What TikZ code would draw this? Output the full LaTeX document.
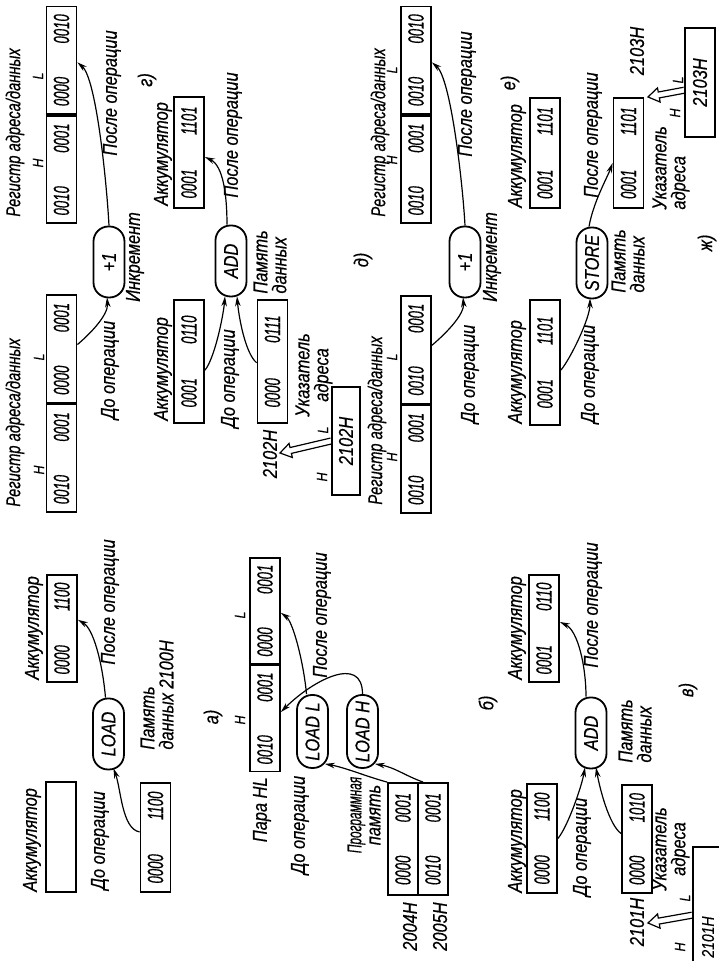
\documentclass[tikz,border=0pt]{standalone}
\usepackage{fontspec}
\usepackage{graphicx}
\usetikzlibrary{calc,arrows.meta}
\newfontfamily\lblfam{Liberation Sans}[FakeStretch=0.82,FakeBold=0.5]
\newfontfamily\digfam{Liberation Sans}[FakeStretch=0.6,FakeBold=0.5]
\newcommand\lblf{\lblfam\itshape\fontsize{10}{9.5}\selectfont}
\newcommand\smf{\lblfam\itshape\fontsize{7.5}{8}\selectfont}
\newcommand\digf{\digfam\itshape\fontsize{11}{12}\selectfont}
\newcommand\bits[2]{\makebox[46pt]{#1\hfill#2}}
\newcommand\regt{\scalebox{0.9}[1]{Регистр адреса/данных}}
\newcommand\harrow[2]{%
  \coordinate (hb) at ($(#2)!5.5pt!(#1)$);
  \draw[hollow] ($(#1)!1.5pt!90:(#2)$) -- ($(hb)!1.5pt!90:(#2)$) -- ($(hb)!3.6pt!90:(#2)$) -- (#2)
    -- ($(hb)!3.6pt!-90:(#2)$) -- ($(hb)!1.5pt!-90:(#2)$) -- ($(#1)!1.5pt!-90:(#2)$);
}
\tikzset{
  bx/.style={draw, line width=0.9pt, minimum height=15pt, inner sep=0pt, font=\digf},
  pill/.style={draw, line width=0.9pt, rounded corners=7.5pt, minimum height=15.5pt, minimum width=35.5pt, inner sep=0pt, font=\lblf},
  lbl/.style={inner sep=0pt, font=\lblf},
  sm/.style={inner sep=0pt, font=\smf},
  arr/.style={line width=0.6pt, -{Stealth[length=5pt,width=2.8pt]}},
  hollow/.style={line width=0.6pt, line join=miter},
}
\begin{document}
\begin{tikzpicture}[x=0.5pt,y=0.5pt]
\begin{scope}[rotate=90, transform shape]
\useasboundingbox (0,0) rectangle (961,718);

% ---------- panel a
\node[bx, minimum width=55pt] (accA0) at (124,657) {};
\node[lbl, anchor=west] (accA0t) at (69,686) {Аккумулятор};
\node[lbl, anchor=west] (doA) at (71,618) {До операции};
\node[bx, minimum width=54.5pt] (memA) at (123.5,562.5) {\bits{0000}{1100}};
\node[lbl, anchor=west, align=left] (memAt) at (211,561) {Память\\данных 2100H};
\node[pill] (loadA) at (227,609.5) {LOAD};
\node[bx, minimum width=53.5pt] (accA1) at (332.5,656) {\bits{0000}{1100}};
\node[lbl, anchor=west] (accA1t) at (281,684) {Аккумулятор};
\node[lbl, anchor=west] (poA) at (296,608) {После операции};
\node[lbl] (capA) at (244,505) {а)};
\draw[arr] ($(memA.north west)!0.55!(memA.north east)$) .. controls +(80:18) and +(200:22) .. ($(loadA.west)+(2,-5)$);
\draw[arr] ($(loadA.east)+(0,3)$) .. controls +(5:35) and +(-120:18) .. ($(accA1.south west)!0.58!(accA1.south east)$);

% ---------- panel b
\node[bx, minimum width=53pt] (hlH) at (242.5,453) {\bits{0010}{0001}};
\node[bx, minimum width=53pt, anchor=west] (hlL) at (hlH.east) {\bits{0000}{0001}};
\node[sm] (hlHt) at (241,478) {H};
\node[sm] (hlLt) at (346,478) {L};
\node[lbl, anchor=east] (hlt) at (184,456) {Пара HL};
\node[lbl] (doB) at (136,418) {До операции};
\node[pill, minimum width=36.5pt] (loadL) at (229.5,405.5) {LOAD L};
\node[pill, minimum width=36.5pt] (loadH) at (229.5,355.5) {LOAD H};
\node[lbl, align=center] (pmt) at (146,354) {\scalebox{0.72}[1]{Программная}\\память};
\node[bx, minimum width=56pt] (pm1) at (122,315) {\bits{0000}{0001}};
\node[bx, minimum width=56pt] (pm2) at (122,285) {\bits{0010}{0001}};
\node[lbl, anchor=east] (pm1a) at (59,308) {2004H};
\node[lbl, anchor=east] (pm2a) at (59,278) {2005H};
\node[lbl] (poB) at (346,396) {После операции};
\node[lbl] (capB) at (258,230) {б)};
\draw[arr] ($(loadL.east)+(0,6)$) .. controls +(5:30) and +(-125:15) .. ($(hlL.south west)!0.48!(hlL.south east)$);
\draw[arr] (loadH.east) .. controls +(0:40) and +(-45:45) .. ($(hlH.south west)!0.56!(hlH.south east)$);
\draw[arr] (pm1.north east) .. controls +(75:20) and +(-100:20) .. ($(loadL.south west)+(5,4)$);
\draw[arr] ($(pm2.north east)+(0,-6)$) .. controls +(70:20) and +(-100:20) .. ($(loadH.south west)+(5,4)$);

% ---------- panel v
\node[bx, minimum width=54.5pt] (accB0) at (122.5,176) {\bits{0000}{1100}};
\node[lbl, anchor=west] (accB0t) at (68,201) {Аккумулятор};
\node[lbl] (doC) at (114,136) {До операции};
\node[bx, minimum width=54pt] (memB) at (122,81) {\bits{0000}{1010}};
\node[lbl, align=center] (ukB) at (112,47) {Указатель\\адреса};
\node[pill] (addB) at (228,127) {ADD};
\node[lbl, anchor=west, align=left] (pdB) at (198,83) {Память\\данных};
\node[bx, minimum width=53.5pt] (accB1) at (332.5,174) {\bits{0001}{0110}};
\node[lbl, anchor=west] (accB1t) at (281,201) {Аккумулятор};
\node[lbl] (poC) at (356,125) {После операции};
\node[lbl] (capC) at (271,30) {в)};
\node[bx, font=\lblfam\itshape\fontsize{8.5}{9}\selectfont, minimum width=90pt] (m2101) at (24,10) {2101H};
\node[lbl] (a2101) at (39,81) {2101H};
\coordinate (t2101) at (38,70);
\coordinate (b2101) at ($(m2101.north west)!0.62!(m2101.north east)$);
\harrow{b2101}{t2101}
\node[sm] (h2101) at (14,38) {H};
\node[sm] (l2101) at (63,33) {L};
\draw[arr] (accB0.south) .. controls +(-40:15) and +(170:20) .. ($(addB.west)+(2,6)$);
\draw[arr] ($(memB.north west)!0.55!(memB.north east)$) .. controls +(55:15) and +(190:20) .. ($(addB.west)+(2,-5)$);
\draw[arr] ($(addB.east)+(0,5)$) .. controls +(0:30) and +(-115:20) .. ($(accB1.south west)!0.56!(accB1.south east)$);

% ---------- panel g
\node[lbl, anchor=west] (rgG0t) at (454,703) {\regt};
\node[bx, minimum width=53.75pt] (g0H) at (502.75,656.5) {\bits{0010}{0001}};
\node[bx, minimum width=53.75pt, anchor=west] (g0L) at (g0H.east) {\bits{0000}{0001}};
\node[sm] (g0Ht) at (491,679) {H};
\node[sm] (g0Lt) at (604,679) {L};
\node[lbl] (doG) at (591,608) {До операции};
\node[pill] (incG) at (699,609) {+1};
\node[lbl] (inG) at (704,583) {Инкремент};
\node[lbl, anchor=west] (rgG1t) at (744,703) {\regt};
\node[bx, minimum width=53.75pt] (g1H) at (791.5,656.5) {\bits{0010}{0001}};
\node[bx, minimum width=53.75pt, anchor=west] (g1L) at (g1H.east) {\bits{0000}{0010}};
\node[sm] (g1Ht) at (798,680) {H};
\node[sm] (g1Lt) at (885,680) {L};
\node[lbl] (poG) at (868,606) {После операции};
\node[lbl] (capG) at (881,571) {г)};
\draw[arr] ($(g0L.south west)!0.54!(g0L.south east)$) .. controls +(-50:15) and +(185:18) .. ($(incG.west)+(1,2)$);
\draw[arr] (incG.east) .. controls +(3:40) and +(-130:25) .. ($(g1L.south west)!0.48!(g1L.south east)$);

% ---------- panel d
\node[bx, minimum width=61.5pt] (accD0) at (599.5,529) {\bits{0001}{0110}};
\node[lbl, anchor=west] (accD0t) at (540,555) {Аккумулятор};
\node[lbl] (doD) at (582.5,488) {До операции};
\node[bx, minimum width=61.5pt] (memD) at (599.5,445.5) {\bits{0000}{0111}};
\node[lbl, align=center] (ukD) at (586,404) {Указатель\\адреса};
\node[pill] (addD) at (700,487) {ADD};
\node[lbl, anchor=west, align=left] (pdD) at (667,448) {Память\\данных};
\node[bx, minimum width=55.5pt] (accD1) at (808.5,529) {\bits{0001}{1101}};
\node[lbl, anchor=west] (accD1t) at (755,555) {Аккумулятор};
\node[lbl] (poD) at (826,485) {После операции};
\node[lbl] (capD) at (701,355) {д)};
\node[bx, font=\lblf, minimum width=54pt, minimum height=14pt] (m2102) at (520,372) {2102H};
\node[lbl] (a2102) at (507,448) {2102H};
\coordinate (t2102) at (508,438);
\coordinate (b2102) at (m2102.north);
\harrow{b2102}{t2102}
\node[sm] (h2102) at (484,396) {H};
\node[sm] (l2102) at (531,395) {L};
\draw[arr] ($(accD0.south west)!0.43!(accD0.south east)$) .. controls +(-40:15) and +(175:20) .. ($(addD.west)+(1,6)$);
\draw[arr] ($(memD.north west)!0.49!(memD.north east)$) .. controls +(50:15) and +(185:20) .. ($(addD.west)+(1,-6)$);
\draw[arr] ($(addD.east)+(0,4)$) .. controls +(0:30) and +(-115:20) .. ($(accD1.south west)!0.46!(accD1.south east)$);

% ---------- panel e
\node[lbl, anchor=west] (rgE0t) at (456,341) {\regt};
\node[bx, minimum width=53.75pt] (e0H) at (502,302) {\bits{0010}{0001}};
\node[bx, minimum width=53.75pt, anchor=west] (e0L) at (e0H.east) {\bits{0010}{0001}};
\node[sm] (e0Ht) at (504,326) {H};
\node[sm] (e0Lt) at (604,326) {L};
\node[lbl] (doE) at (587,248) {До операции};
\node[pill] (incE) at (699,253) {+1};
\node[lbl] (inE) at (704,226) {Инкремент};
\node[lbl, anchor=west] (rgE1t) at (744,338) {\regt};
\node[bx, minimum width=53.75pt] (e1H) at (791.5,302) {\bits{0010}{0001}};
\node[bx, minimum width=53.75pt, anchor=west] (e1L) at (e1H.east) {\bits{0010}{0010}};
\node[sm] (e1Ht) at (801,326) {H};
\node[sm] (e1Lt) at (891,326) {L};
\node[lbl] (poE) at (867,251) {После операции};
\node[lbl] (capE) at (878,208) {е)};
\draw[arr] ($(e0L.south west)!0.54!(e0L.south east)$) .. controls +(-50:15) and +(185:18) .. ($(incE.west)+(1,2)$);
\draw[arr] (incE.east) .. controls +(3:40) and +(-130:25) .. ($(e1L.south west)!0.48!(e1L.south east)$);

% ---------- panel zh
\node[bx, minimum width=62.5pt] (accJ0) at (598.5,173) {\bits{0001}{1101}};
\node[lbl, anchor=west] (accJ0t) at (537,201) {Аккумулятор};
\node[lbl] (doJ) at (587,128) {До операции};
\node[pill] (store) at (698,126) {STORE};
\node[lbl, anchor=west, align=left] (pdJ) at (668,90) {Память\\данных};
\node[bx, minimum width=55pt] (accJ1) at (808,173) {\bits{0001}{1101}};
\node[lbl, anchor=west] (accJ1t) at (753,201) {Аккумулятор};
\node[bx, minimum width=55pt] (memJ) at (808,89.5) {\bits{0001}{1101}};
\node[lbl, anchor=west, align=left] (ukJ) at (751,47) {Указатель\\адреса};
\node[lbl] (poJ) at (826,125) {После операции};
\node[bx, font=\lblf, minimum width=54.5pt] (m2103) at (878.5,18) {2103H};
\node[lbl] (a2103) at (910,81) {2103H};
\coordinate (t2103) at (864,70);
\coordinate (b2103) at ($(m2103.north west)!0.43!(m2103.north east)$);
\harrow{b2103}{t2103}
\node[sm] (h2103) at (848,43) {H};
\node[sm] (l2103) at (881,40) {L};
\node[lbl] (capJ) at (718,11) {ж)};
\draw[arr] ($(accJ0.south west)!0.44!(accJ0.south east)$) .. controls +(-40:15) and +(180:20) .. ($(store.west)+(1,2)$);
\draw[arr] ($(store.east)+(0,3)$) .. controls +(-10:25) and +(160:15) .. ($(memJ.north west)!0.41!(memJ.north east)$);
\end{scope}
\end{tikzpicture}
\end{document}
